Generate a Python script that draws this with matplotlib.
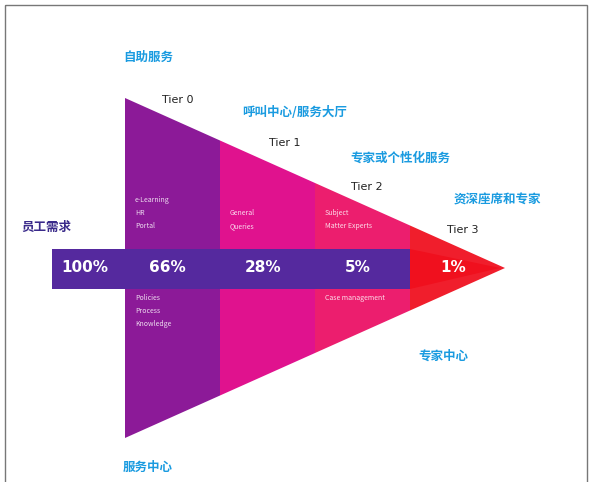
import matplotlib
matplotlib.use("Agg")
import matplotlib.pyplot as plt
from matplotlib.patches import Polygon, Rectangle

plt.rcParams['font.family'] = ['Noto Sans CJK SC', 'DejaVu Sans']

# data
tiers = ['Tier 0', 'Tier 1', 'Tier 2', 'Tier 3']
channels = ['自助服务', '呼叫中心/服务大厅', '专家或个性化服务', '资深座席和专家']
shares = ['100%', '66%', '28%', '5%', '1%']
notes_top = ['e-Learning\nHR\nPortal', 'General\nQueries', 'Subject\nMatter Experts', '']
notes_bottom = ['Policies\nProcess\nKnowledge', '', 'Case management', '']
colors = ['#8c1a98', '#e0128e', '#ec1e6e', '#f01e2c']

fig = plt.figure(figsize=(5.92, 4.82), dpi=100)
ax = fig.add_axes([0, 0, 1, 1])
ax.set_xlim(0, 592)
ax.set_ylim(482, 0)
ax.axis('off')

# frame
ax.add_patch(Rectangle((5, 5), 582, 490, fill=False, ec='#777777', lw=1))

# funnel geometry
x0, x1, yc, h = 125, 505, 268, 170
n = len(tiers)
step = (x1 - x0) / n

def half(x):
    return h * (x1 - x) / (x1 - x0)

for i in range(n):
    a = x0 + i * step
    b = a + step
    pts = [(a, yc - half(a)), (b, yc - half(b)), (b, yc + half(b)), (a, yc + half(a))]
    ax.add_patch(Polygon(pts, closed=True, fc=colors[i], ec='none'))

# band through the funnel
band_top, band_bot = 249, 289
ax.add_patch(Rectangle((52, band_top), x0 + 3 * step - 52, band_bot - band_top,
                       fc='#55299e', ec='none'))
a = x0 + 3 * step
ax.add_patch(Polygon([(a, band_top), (x1 - 5, yc), (a, band_bot)], fc='#f0101e', ec='none'))

# percentages
xs = [85] + [x0 + (i + 0.45) * step for i in range(n)]
for x, s in zip(xs, shares):
    ax.text(x, yc, s, color='white', fontsize=11, fontweight='bold',
            ha='center', va='center', family='DejaVu Sans')

# small notes
for i in range(n):
    a = x0 + i * step + 10
    if notes_top[i]:
        ax.text(a, 230, notes_top[i], color='white', fontsize=5, va='bottom',
                ha='left', linespacing=1.8, alpha=0.85)
    if notes_bottom[i]:
        ax.text(a, 294, notes_bottom[i], color='white', fontsize=5, va='top',
                ha='left', linespacing=1.8, alpha=0.85)

# tier labels and channel names
tier_pos = [(178, 100), (285, 143), (367, 187), (463, 230)]
chan_pos = [(148, 57), (295, 112), (400, 158), (497, 200)]
for t, c, tp, cp in zip(tiers, channels, tier_pos, chan_pos):
    ax.text(tp[0], tp[1], t, fontsize=8, color='#222222', ha='center', va='center',
            family='DejaVu Sans')
    ax.text(cp[0], cp[1], c, fontsize=9, color='#1a9be0', ha='center', va='center',
            fontweight='bold')

ax.text(46, 227, '员工需求', fontsize=9, color='#3a2a8a', ha='center', va='center',
        fontweight='bold')
ax.text(443, 356, '专家中心', fontsize=9, color='#1a9be0', ha='center', va='center',
        fontweight='bold')
ax.text(148, 467, '服务中心', fontsize=9, color='#1a9be0', ha='center', va='center',
        fontweight='bold')

fig.savefig('out.png', dpi=100)
